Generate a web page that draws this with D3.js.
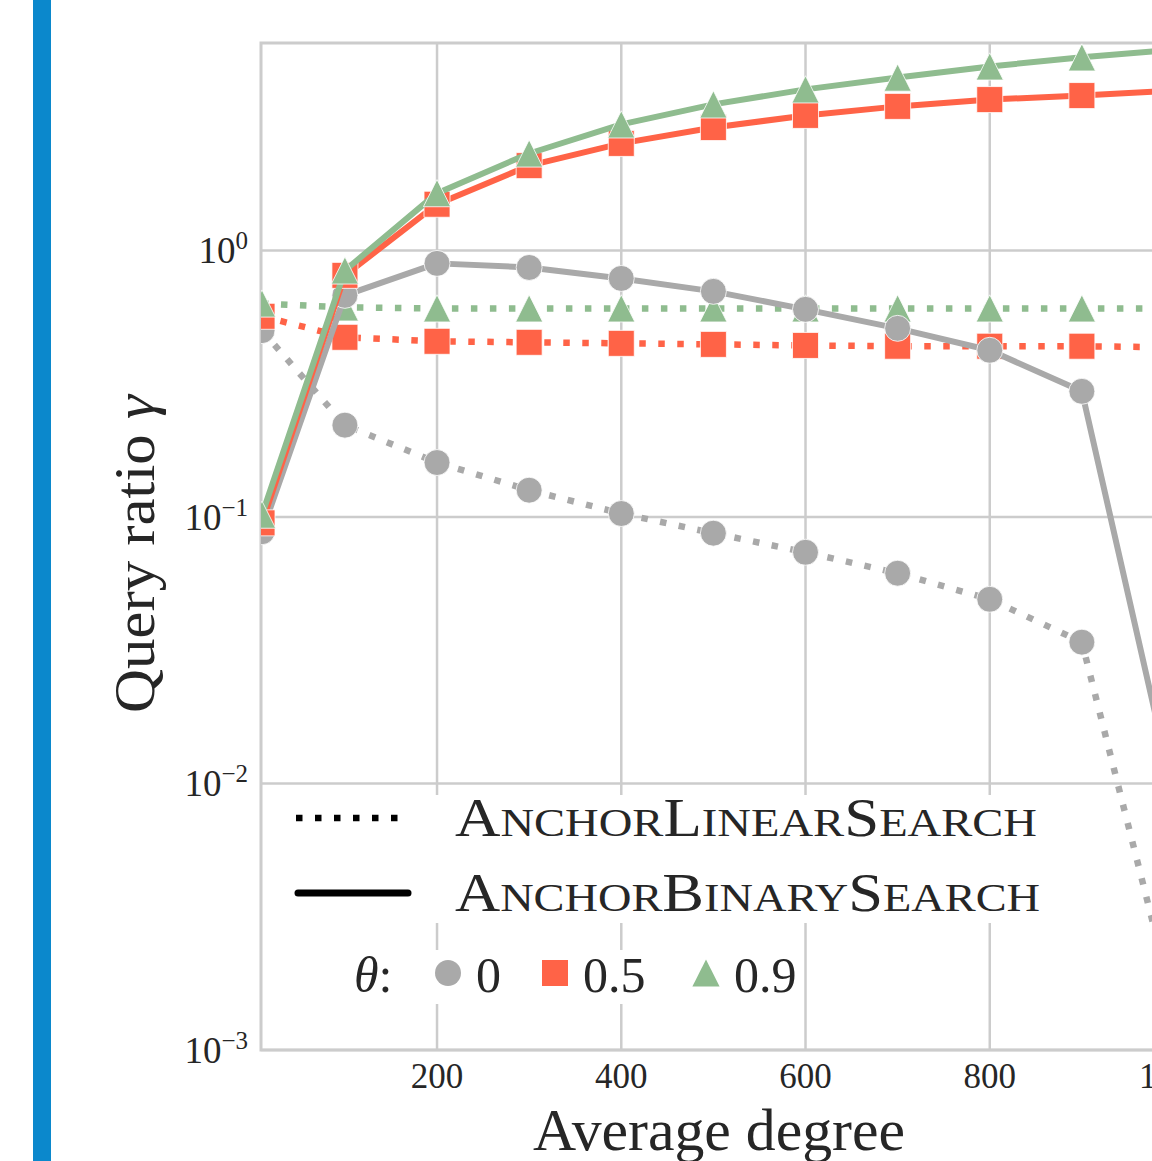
<!DOCTYPE html>
<html>
<head>
<meta charset="utf-8">
<script src="https://cdn.jsdelivr.net/npm/d3@7"></script>
<style>
  body { margin: 0; background: #fff; }
  svg { display: block; font-family: "Liberation Serif", "DejaVu Serif", serif; }
</style>
</head>
<body>
<svg width="1152" height="1161"></svg>
<script>
// x values (average degree)
const degrees = [10, 100, 200, 300, 400, 500, 600, 700, 800, 900, 1000];

// AnchorLinearSearch (dotted)
const linearTheta0  = [0.50, 0.221, 0.160, 0.126, 0.103, 0.0869, 0.0737, 0.0615, 0.0491, 0.0339, 0.00146];
const linearTheta05 = [0.566, 0.472, 0.456, 0.452, 0.448, 0.444, 0.440, 0.437, 0.437, 0.437, 0.433];
const linearTheta09 = [0.632, 0.611, 0.606, 0.606, 0.606, 0.606, 0.606, 0.606, 0.606, 0.606, 0.606];

// AnchorBinarySearch (solid)
const binaryTheta0  = [0.088, 0.678, 0.894, 0.863, 0.785, 0.702, 0.601, 0.510, 0.422, 0.296, 0.00896];
const binaryTheta05 = [0.095, 0.806, 1.49, 2.08, 2.52, 2.89, 3.21, 3.47, 3.68, 3.81, 3.98];
const binaryTheta09 = [0.102, 0.841, 1.64, 2.31, 2.97, 3.53, 4.02, 4.45, 4.90, 5.30, 5.67];

const thetaLabels = ["0", "0.5", "0.9"];
const xTicks = [200, 400, 600, 800, 1000];
const yTicks = [1e-3, 1e-2, 1e-1, 1];
const yTickExp = ["\u22123", "\u22122", "\u22121", "0"];

var colors = ["#a9a9a9", "#ff6347", "#8fbc8f"];

// matplotlib-like triangle: centred on its bounding box
var triangleUp = {
    draw: function(context, size) {
        var h = Math.sqrt(size) / 2;
        context.moveTo(0, -h);
        context.lineTo(h, h);
        context.lineTo(-h, h);
        context.closePath();
    }
};
var shapes = [d3.symbolCircle, d3.symbolSquare, triangleUp];
var symbolSizes = [530, 676, 740];

var svg = d3.select("svg");

// blue side bar
svg.append("rect")
    .attr("x", 33).attr("y", 0)
    .attr("width", 18).attr("height", 1161)
    .attr("fill", "#0b88cc");

var plotLeft = 261, plotRight = 1174, plotTop = 43, plotBottom = 1050;

var xScale = d3.scaleLinear().domain([10, 1000]).range([262, 1174]);
var yScale = d3.scaleLog().domain([1e-3, 6]).range([plotBottom, plotTop]);

svg.append("defs").append("clipPath").attr("id", "plot-clip")
    .append("rect")
    .attr("x", plotLeft).attr("y", plotTop)
    .attr("width", plotRight - plotLeft).attr("height", plotBottom - plotTop);

// grid
var grid = svg.append("g");
grid.selectAll(".xg").data(xTicks).enter().append("line")
    .attr("x1", d => xScale(d)).attr("x2", d => xScale(d))
    .attr("y1", plotTop).attr("y2", plotBottom)
    .attr("stroke", "#cccccc").attr("stroke-width", 2.5);
grid.selectAll(".yg").data(yTicks).enter().append("line")
    .attr("x1", plotLeft).attr("x2", plotRight)
    .attr("y1", d => yScale(d)).attr("y2", d => yScale(d))
    .attr("stroke", "#cccccc").attr("stroke-width", 2.5);

// spines
svg.append("rect")
    .attr("x", plotLeft).attr("y", plotTop)
    .attr("width", plotRight - plotLeft).attr("height", plotBottom - plotTop)
    .attr("fill", "none").attr("stroke", "#cccccc").attr("stroke-width", 3);

// tick labels
svg.append("g").selectAll("text").data(xTicks).enter().append("text")
    .attr("x", d => xScale(d)).attr("y", 1088)
    .attr("text-anchor", "middle")
    .style("font-size", "35px").attr("fill", "#262626")
    .text(d => d);

var yLab = svg.append("g").selectAll("text").data(yTicks).enter().append("text")
    .attr("x", 248).attr("y", d => yScale(d) + 13)
    .attr("text-anchor", "end")
    .attr("fill", "#262626");
yLab.append("tspan").style("font-size", "37px").text("10");
yLab.append("tspan").style("font-size", "25px").attr("dy", -14)
    .text((d, i) => yTickExp[i]);

// axis labels
svg.append("text")
    .attr("x", 719).attr("y", 1150)
    .attr("text-anchor", "middle")
    .attr("textLength", 372).attr("lengthAdjust", "spacingAndGlyphs")
    .style("font-size", "60px").attr("fill", "#262626")
    .text("Average degree");

var yl = svg.append("text")
    .attr("transform", "translate(154, 554) rotate(-90)")
    .attr("text-anchor", "middle")
    .attr("textLength", 318).attr("lengthAdjust", "spacingAndGlyphs")
    .style("font-size", "56px").attr("fill", "#262626");
yl.append("tspan").text("Query ratio ");
yl.append("tspan").style("font-style", "italic").text("\u03b3");

// series
var line = d3.line()
    .x((d, i) => xScale(degrees[i]))
    .y(d => yScale(d));

var series = [
    { values: linearTheta0, t: 0, dotted: true },
    { values: linearTheta05, t: 1, dotted: true },
    { values: linearTheta09, t: 2, dotted: true },
    { values: binaryTheta0, t: 0, dotted: false },
    { values: binaryTheta05, t: 1, dotted: false },
    { values: binaryTheta09, t: 2, dotted: false }
];

var plot = svg.append("g").attr("clip-path", "url(#plot-clip)");

series.forEach(s => {
    plot.append("path")
        .attr("d", line(s.values))
        .attr("fill", "none")
        .attr("stroke", colors[s.t])
        .attr("stroke-width", s.dotted ? 6.5 : 6)
        .attr("stroke-dasharray", s.dotted ? "6.5,12.5" : null)
        .attr("stroke-linejoin", "round");

    plot.selectAll(null).data(s.values).enter().append("path")
        .attr("transform", (d, i) => "translate(" + xScale(degrees[i]) + "," + yScale(d) + ")")
        .attr("d", d3.symbol().type(shapes[s.t]).size(symbolSizes[s.t]))
        .attr("fill", colors[s.t])
        .attr("stroke", "#fff").attr("stroke-width", 0.8);
});

// legend 1: line styles
var leg1 = svg.append("g");
leg1.append("rect")
    .attr("x", 276).attr("y", 795).attr("width", 790).attr("height", 128)
    .attr("fill", "#fff");
leg1.append("line")
    .attr("x1", 296).attr("x2", 402).attr("y1", 818).attr("y2", 818)
    .attr("stroke", "#000").attr("stroke-width", 6.5)
    .attr("stroke-dasharray", "6.5,12.5");
leg1.append("line")
    .attr("x1", 298).attr("x2", 408).attr("y1", 893).attr("y2", 893)
    .attr("stroke", "#000").attr("stroke-width", 7)
    .attr("stroke-linecap", "round");

function smallCaps(sel, str) {
    str.split("").forEach(ch => {
        var big = ch === ch.toUpperCase();
        sel.append("tspan")
            .style("font-size", big ? "54px" : "40px")
            .text(ch.toUpperCase());
    });
}

var t1 = leg1.append("text").attr("x", 455).attr("y", 836)
    .attr("textLength", 582).attr("lengthAdjust", "spacingAndGlyphs")
    .attr("fill", "#262626");
smallCaps(t1, "AnchorLinearSearch");
var t2 = leg1.append("text").attr("x", 455).attr("y", 911)
    .attr("textLength", 585).attr("lengthAdjust", "spacingAndGlyphs")
    .attr("fill", "#262626");
smallCaps(t2, "AnchorBinarySearch");

// legend 2: theta markers
var leg2 = svg.append("g");
leg2.append("rect")
    .attr("x", 335).attr("y", 950).attr("width", 465).attr("height", 54)
    .attr("fill", "#fff");
var th = leg2.append("text").attr("x", 354).attr("y", 992)
    .style("font-size", "50px").attr("fill", "#262626");
th.append("tspan").style("font-style", "italic").text("\u03b8");
th.append("tspan").text(":");

var legX = [448, 555, 706];
thetaLabels.forEach((lab, i) => {
    leg2.append("path")
        .attr("transform", "translate(" + legX[i] + "," + 973 + ")")
        .attr("d", d3.symbol().type(shapes[i]).size(symbolSizes[i]))
        .attr("fill", colors[i]);
    leg2.append("text")
        .attr("x", legX[i] + 28).attr("y", 992)
        .style("font-size", "50px").attr("fill", "#262626")
        .text(lab);
});
</script>
</body>
</html>
